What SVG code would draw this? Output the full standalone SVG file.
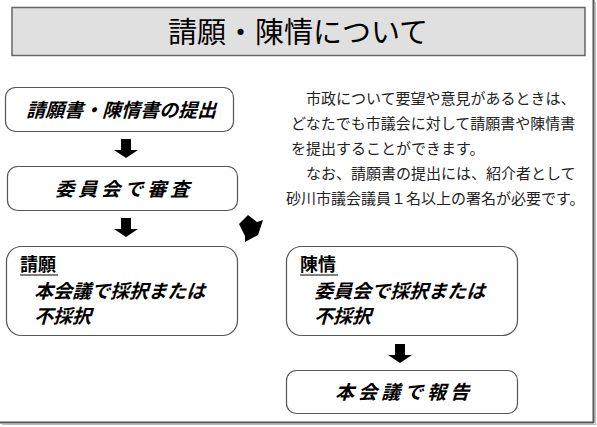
<svg xmlns="http://www.w3.org/2000/svg" width="597" height="427" viewBox="0 0 597 427">
<style>
.box{fill:#fff;stroke:#555;stroke-width:1.2}
.jp{font-family:"Noto Sans CJK JP","Noto Sans CJK SC",sans-serif;fill:#000}
.bi{font-weight:700;font-size:19px}
.para{font-size:15px;fill:#222}
.arr{fill:#000}
</style>
<rect x="0" y="0" width="597" height="427" fill="#fff"/>
<g id="frame">
<line x1="593.5" y1="0" x2="593.5" y2="423" stroke="#555" stroke-width="2"/>
<line x1="595.5" y1="2" x2="595.5" y2="425" stroke="#bbb" stroke-width="1"/>
<line x1="0" y1="422.5" x2="594" y2="422.5" stroke="#555" stroke-width="2"/>
<line x1="2" y1="424.5" x2="596" y2="424.5" stroke="#bbb" stroke-width="1"/>
</g>
<g id="title">
<rect x="12" y="7.5" width="573" height="48" fill="#e0e0e0" stroke="#666" stroke-width="1.5"/>
<text class="jp" x="298" y="43" font-size="29" text-anchor="middle" fill="#222">請願・陳情について</text>
</g>
<g id="n1">
<rect class="box" x="5.5" y="87.5" width="228" height="44" rx="10"/>
<g transform="translate(121,117) skewX(-16)"><text class="jp bi" x="0" y="0" font-size="20" text-anchor="middle">請願書・陳情書の提出</text></g>
</g>
<g id="n2">
<rect class="box" x="7.5" y="166.5" width="230" height="44" rx="10"/>
<g transform="translate(124,196) skewX(-16)"><text class="jp bi" x="0" y="0" text-anchor="middle" letter-spacing="4">委員会で審査</text></g>
</g>
<g id="n3">
<rect class="box" x="6.5" y="246.5" width="231" height="89" rx="15"/>
<text class="jp" x="20" y="271" font-size="18" font-weight="700">請願</text>
<line x1="20" y1="275" x2="58" y2="275" stroke="#000" stroke-width="1.2"/>
<g transform="translate(34,298) skewX(-16)"><text class="jp bi" x="0" y="0">本会議で採択または</text></g>
<g transform="translate(34,323) skewX(-16)"><text class="jp bi" x="0" y="0">不採択</text></g>
</g>
<g id="n4">
<rect class="box" x="286.5" y="246.5" width="231" height="89" rx="15"/>
<text class="jp" x="300" y="271" font-size="18" font-weight="700">陳情</text>
<line x1="300" y1="275" x2="338" y2="275" stroke="#000" stroke-width="1.2"/>
<g transform="translate(314,298) skewX(-16)"><text class="jp bi" x="0" y="0">委員会で採択または</text></g>
<g transform="translate(314,323) skewX(-16)"><text class="jp bi" x="0" y="0">不採択</text></g>
</g>
<g id="n5">
<rect class="box" x="286.5" y="370.5" width="231" height="43" rx="10"/>
<g transform="translate(404,399) skewX(-16)"><text class="jp bi" x="0" y="0" text-anchor="middle" letter-spacing="4">本会議で報告</text></g>
</g>
<g id="desc">
<text class="jp para" x="306" y="104">市政について要望や意見があるときは、</text>
<text class="jp para" x="291" y="129">どなたでも市議会に対して請願書や陳情書</text>
<text class="jp para" x="291" y="154">を提出することができます。</text>
<text class="jp para" x="306" y="179">なお、請願書の提出には、紹介者として</text>
<text class="jp para" x="286" y="204">砂川市議会議員１名以上の署名が必要です。</text>
</g>
<g id="connectors">
<polygon class="arr" points="121,139 131,139 131,150 138,150 126,158 114,150 121,150"/>
<polygon class="arr" points="121,218 131,218 131,229 138,229 126,237 114,229 121,229"/>
<polygon class="arr" points="239,224 248,215 257,222 263,220 258,235 245,242 245,236"/>
<polygon class="arr" points="395,344 405,344 405,355 412,355 400,363 388,355 395,355"/>
</g>
</svg>
